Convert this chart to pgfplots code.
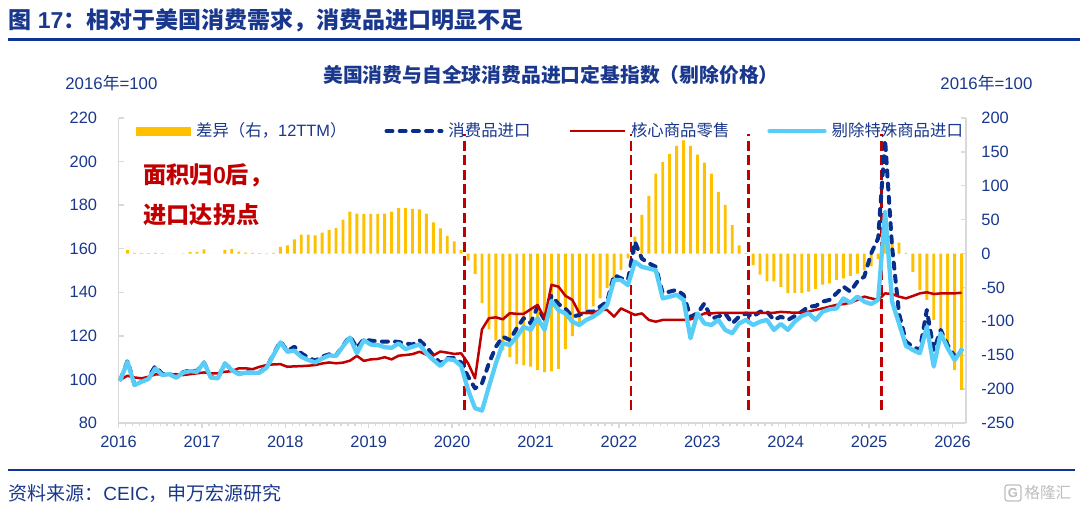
\documentclass[border=0pt]{standalone}
\usepackage{pgfplots}
\pgfplotsset{compat=1.18}
\usepackage{pgfplotstable}
\usepackage{fontspec}
\setmainfont{Liberation Sans}
\newfontfamily\cjk{Noto Sans CJK SC}
\definecolor{tblue}{RGB}{25,55,140}
\definecolor{ruleblue}{RGB}{16,52,150}
\definecolor{barY}{RGB}{255,192,0}
\definecolor{dblue}{RGB}{8,46,140}
\definecolor{cred}{RGB}{192,0,0}
\definecolor{lblue}{RGB}{88,205,248}
\definecolor{axgray}{RGB}{217,217,217}
\definecolor{wmgray}{RGB}{190,190,190}

\pgfplotstableread{
i bar imp core ex
0 nan 100.0 100.0 100.0
1 5 108.5 101.7 108.1
2 1 97.6 100.9 97.4
3 0.5 99.0 100.5 98.9
4 0.5 101.0 101.2 100.2
5 1 106.1 102.3 105.0
6 0.5 102.5 102.4 102.0
7 0 102.6 102.3 102.4
8 0 101.0 102.4 100.8
9 0.3 103.3 102.0 103.1
10 2 104.2 102.4 103.8
11 2.5 103.8 102.8 103.5
12 6 107.8 103.2 107.8
13 0 101.0 102.8 100.8
14 0 100.7 102.8 100.5
15 5.5 107.3 103.5 107.3
16 7 104.5 103.8 104.3
17 2.5 102.6 105.1 102.4
18 1.5 103.3 105.1 103.1
19 1 103.0 104.7 103.1
20 0.5 103.3 105.8 103.1
21 -1 105.6 106.6 105.4
22 1 111.5 106.9 111.2
23 10 117.5 107.0 117.0
24 12 113.0 105.8 112.7
25 21 115.0 106.0 113.2
26 28 112.0 106.1 110.4
27 28 110.0 106.3 108.9
28 27 108.6 106.6 107.8
29 31 110.5 107.3 109.6
30 35 111.5 107.8 111.0
31 38 111.0 107.4 110.8
32 50 115.5 107.7 115.2
33 62 119.8 108.6 119.2
34 59 114.5 110.8 112.0
35 58.5 118.5 108.5 118.0
36 58.5 117.8 109.2 116.0
37 58.5 117.5 109.4 115.8
38 59 117.3 110.2 114.8
39 62 117.5 109.2 114.5
40 67 117.2 110.9 116.5
41 67 116.5 111.2 113.9
42 66 116.0 111.6 115.0
43 65 118.0 112.7 116.0
44 59 115.0 111.4 112.0
45 46 111.0 111.0 108.9
46 37 107.5 112.8 106.2
47 26 109.8 112.3 109.3
48 18 109.8 111.7 108.9
49 5 107.8 112.0 106.2
50 -10 101.3 107.4 95.2
51 -30 95.9 100.5 86.8
52 -73 98.2 123.0 85.7
53 -112 107.4 128.1 96.7
54 -128 115.0 128.5 107.4
55 -143 119.6 127.6 116.6
56 -153 118.1 130.4 115.8
57 -163 123.5 130.1 119.6
58 -165 128.1 130.1 124.2
59 -167 125.8 132.2 122.7
60 -172 133.4 134.2 128.1
61 -175 127.3 128.0 122.8
62 -174 138.5 143.4 136.0
63 -170 134.6 142.6 131.8
64 -141 132.5 138.4 130.3
65 -122 128.8 136.5 126.5
66 -102 129.6 130.4 125.0
67 -90 131.1 130.6 127.3
68 -78 131.1 130.3 128.8
69 -66 133.4 131.9 131.1
70 -51 135.7 131.9 134.2
71 -36 147.9 128.8 145.6
72 -24 146.4 132.6 145.6
73 -7 145.6 131.1 143.3
74 25 163.2 129.6 154.0
75 57 155.5 130.3 151.7
76 85 153.3 127.3 150.9
77 118 151.7 126.5 150.2
78 135 139.5 127.3 137.2
79 147 140.3 127.3 138.0
80 159 141.1 127.3 138.8
81 167 138.8 127.3 136.5
82 159 128.8 127.6 118.9
83 146 130.3 128.8 130.3
84 134 134.9 130.3 125.7
85 118 128.0 130.3 125.0
86 91 128.8 130.6 127.3
87 72 130.3 130.6 122.7
88 42 125.7 130.6 121.2
89 12 128.8 130.6 125.7
90 0.5 130.3 130.6 127.3
91 -17 128.8 130.6 125.0
92 -31 131.1 130.6 126.5
93 -41 131.1 130.6 127.3
94 -41 127.3 130.6 122.7
95 -49 128.8 131.0 125.5
96 -58.5 127.3 130.8 122.7
97 -58 129.1 130.6 126.5
98 -58 131.1 130.8 129.1
99 -56 133.4 131.1 130.3
100 -52 133.7 131.9 127.3
101 -46 135.7 132.6 131.1
102 -44 136.5 133.4 132.2
103 -39 139.5 134.2 132.6
104 -36.5 142.6 134.6 137.2
105 -33 140.3 135.2 135.2
106 -29.5 144.9 136.5 138.0
107 -24.5 147.2 138.0 135.7
108 -19 157.9 137.2 134.6
109 -8 164.8 136.5 136.5
110 20 209.9 139.5 177.0
111 20 160.9 139.2 135.7
112 16 130.3 138.0 125.7
113 1 117.3 137.2 115.4
114 -27 115.0 138.3 113.5
115 -54 113.5 139.5 112.0
116 -68.5 131.9 140.0 124.2
117 -98 113.5 139.2 105.9
118 -112 122.7 139.5 121.2
119 -132 115.8 139.5 114.3
120 -172 110.5 139.5 108.9
121 -201 113.5 139.8 113.5
}\data

\begin{document}
\begin{tikzpicture}
\useasboundingbox (0,0) rectangle (540pt,253.5pt);

% header
\node[anchor=west, text=tblue, font=\bfseries\fontsize{11.5}{13}\selectfont, inner sep=0pt] at (4pt,243.5pt)
  {{\cjk 图} 17{\cjk ：相对于美国消费需求，消费品进口明显不足}};
\draw[ruleblue, line width=1.4pt] (4pt,233.75pt) -- (540pt,233.75pt);

\node[text=tblue, font=\bfseries\fontsize{9.9}{11}\selectfont, inner sep=0pt] at (275.5pt,216pt)
  {\cjk 美国消费与自全球消费品进口定基指数（剔除价格）};
\node[anchor=west, text=tblue, font=\fontsize{8.4}{10}\selectfont, inner sep=0pt] at (32.5pt,212pt)
  {2016{\cjk 年}=100};
\node[anchor=west, text=tblue, font=\fontsize{8.4}{10}\selectfont, inner sep=0pt] at (470pt,212pt)
  {2016{\cjk 年}=100};

% right axis: bars
\begin{axis}[
  at={(59.25pt,42pt)}, anchor=south west, scale only axis,
  width=423.75pt, height=152.5pt,
  xmin=0, xmax=121.94, ymin=-250, ymax=200,
  axis x line=none, axis y line*=right,
  axis line style={draw=axgray, line width=0.7pt},
  ytick={-250,-200,-150,-100,-50,0,50,100,150,200},
  tick align=inside, major tick length=2.5pt,
  tick style={draw=axgray, line width=0.7pt},
  /pgf/number format/assume math mode=true,
  yticklabel style={font=\fontsize{8.2}{10}\selectfont, text=tblue, anchor=west, inner sep=0pt, xshift=7.5pt},
]
\addplot[ybar, bar width=1.45pt, fill=barY, draw=none] table[x expr=\thisrow{i}+0.3, y=bar] {\data};
\end{axis}

% left axis: lines
\begin{axis}[
  at={(59.25pt,42pt)}, anchor=south west, scale only axis,
  width=423.75pt, height=152.5pt,
  xmin=0, xmax=121.94, ymin=80, ymax=220,
  axis y line*=left, axis x line*=bottom,
  axis line style={draw=axgray, line width=0.7pt},
  ytick={80,100,120,140,160,180,200,220},
  xtick={0,12,24,36,48,60,72,84,96,108,120},
  xticklabels={2016,2017,2018,2019,2020,2021,2022,2023,2024,2025,2026},
  minor x tick num=11,
  tick style={draw=axgray, line width=0.7pt},
  y tick style={/pgfplots/tick align=inside},
  xtick align=outside,
  major tick length=2.5pt, minor tick length=1.6pt,
  /pgf/number format/assume math mode=true,
  yticklabel style={font=\fontsize{8.2}{10}\selectfont, text=tblue, anchor=east, inner sep=0pt, xshift=-10.5pt},
  xticklabel style={font=\fontsize{8.2}{10}\selectfont, text=tblue, anchor=north, inner sep=0pt, yshift=-4pt},
  legend image code/.code={\draw[#1] (0pt,0pt) -- (27.5pt,0pt);},
  legend style={at={(0.0206,0.957)}, anchor=west, draw=none, fill=none, inner sep=0pt,
    legend columns=4, font=\fontsize{8.2}{10}\selectfont, text=tblue,
    nodes={inner sep=1pt},
    /tikz/every odd column/.append style={column sep=1.5pt},
    /tikz/every even column/.append style={column sep=18pt}},
  clip=false,
]
\addlegendimage{legend image code/.code={\fill[barY] (0pt,-2pt) rectangle (27pt,2pt);}}
\addlegendentry{{\cjk 差异（右，}12TTM{\cjk ）}}
\addplot[cred, line width=1.3pt, dash pattern=on 5pt off 2.2pt, forget plot] coordinates {(49.82,86) (49.82,212.6)};
\addplot[cred, line width=1.3pt, dash pattern=on 5pt off 2.2pt, forget plot] coordinates {(73.73,86) (73.73,212.6)};
\addplot[cred, line width=1.3pt, dash pattern=on 5pt off 2.2pt, forget plot] coordinates {(90.66,86) (90.66,212.6)};
\addplot[cred, line width=1.3pt, dash pattern=on 5pt off 2.2pt, forget plot] coordinates {(109.8,86) (109.8,212.6)};
\addplot[dblue, line width=2pt, line cap=round, line join=round, dash pattern=on 3pt off 3.6pt] table[x expr=\thisrow{i}+0.3, y=imp] {\data};
\addlegendentry{\cjk 消费品进口}
\addplot[cred, line width=1.25pt, line join=round] table[x expr=\thisrow{i}+0.3, y=core] {\data};
\addlegendentry{\cjk 核心商品零售}
\addplot[lblue, line width=2.15pt, line join=round, line cap=round] table[x expr=\thisrow{i}+0.3, y=ex] {\data};
\addlegendentry{\cjk 剔除特殊商品进口}
\end{axis}

% annotation
\node[anchor=west, text=cred, font=\bfseries\fontsize{11.6}{13}\selectfont, inner sep=0pt] at (71.5pt,166pt)
  {{\cjk 面积归}0{\cjk 后，}};
\node[anchor=west, text=cred, font=\bfseries\fontsize{11.6}{13}\selectfont, inner sep=0pt] at (71.5pt,146pt)
  {\cjk 进口达拐点};

% footer
\draw[ruleblue, line width=1.1pt] (4pt,18.5pt) -- (537.5pt,18.5pt);
\node[anchor=west, text=tblue, font=\fontsize{9.5}{11}\selectfont, inner sep=0pt] at (4pt,7pt)
  {{\cjk 资料来源：}CEIC{\cjk ，申万宏源研究}};
\node[draw=wmgray, rounded corners=1.2pt, line width=0.6pt, minimum size=8pt, inner sep=0pt, text=wmgray, font=\bfseries\fontsize{6.5}{7}\selectfont] at (506.5pt,7pt) {G};
\node[anchor=west, text=wmgray, font=\fontsize{7.8}{9}\selectfont, inner sep=0pt] at (512pt,7pt) {\cjk 格隆汇};
\end{tikzpicture}
\end{document}
